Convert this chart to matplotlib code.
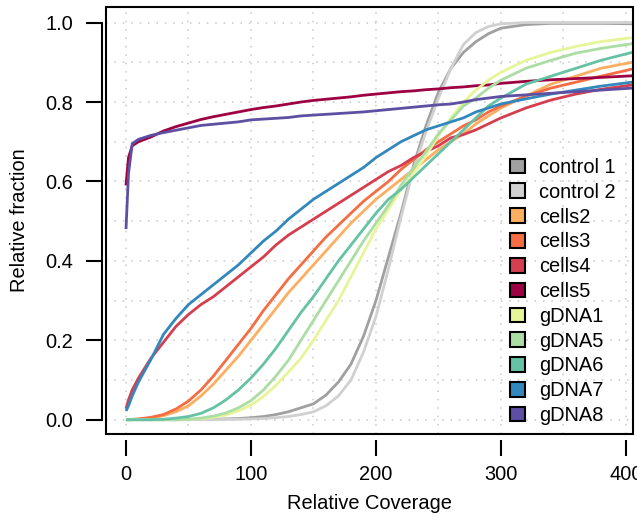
import numpy as np
import matplotlib
matplotlib.use("Agg")
import matplotlib.pyplot as plt
from matplotlib.patches import Patch, Rectangle

plt.rcParams["font.family"] = ["Liberation Sans", "DejaVu Sans"]
plt.rcParams["font.size"] = 14.4

# coverage grid shared by every curve
coverage = [0, 2, 5, 10, 20, 30, 40, 50, 60, 70, 80, 90, 100, 110, 120, 130, 140, 150,
            160, 170, 180, 190, 200, 210, 220, 230, 240, 250, 260, 270, 280, 290, 300,
            320, 340, 360, 380, 405]

control1 = [0, 0, 0, 0, 0, 0, 0, 0, 0.001, 0.001, 0.002, 0.003, 0.005, 0.008, 0.013, 0.02,
            0.03, 0.04, 0.062, 0.095, 0.14, 0.21, 0.30, 0.41, 0.52, 0.64, 0.74, 0.825, 0.885,
            0.925, 0.952, 0.972, 0.986, 0.995, 0.998, 0.998, 0.998, 0.997]
control2 = [0, 0, 0, 0, 0, 0, 0, 0, 0, 0, 0.001, 0.001, 0.002, 0.003, 0.005, 0.008,
            0.013, 0.02, 0.035, 0.06, 0.10, 0.17, 0.26, 0.38, 0.51, 0.63, 0.725, 0.81, 0.885,
            0.945, 0.975, 0.99, 0.997, 1.0, 1.0, 1.0, 1.0, 1.0]
cells2 = [0, 0, 0, 0.001, 0.004, 0.01, 0.02, 0.035, 0.06, 0.09, 0.125, 0.16, 0.20, 0.24,
          0.28, 0.32, 0.355, 0.39, 0.425, 0.46, 0.495, 0.525, 0.555, 0.58, 0.605, 0.63,
          0.655, 0.68, 0.70, 0.72, 0.745, 0.765, 0.785, 0.815, 0.845, 0.865, 0.885, 0.90]
cells3 = [0, 0, 0.001, 0.002, 0.006, 0.013, 0.027, 0.047, 0.075, 0.11, 0.15, 0.19, 0.23,
          0.275, 0.315, 0.355, 0.39, 0.425, 0.46, 0.49, 0.52, 0.55, 0.575, 0.60, 0.63,
          0.655, 0.68, 0.70, 0.72, 0.74, 0.755, 0.775, 0.79, 0.815, 0.835, 0.85, 0.865, 0.883]
cells4 = [0.028, 0.05, 0.075, 0.105, 0.155, 0.195, 0.235, 0.265, 0.29, 0.31, 0.335, 0.36,
          0.385, 0.41, 0.44, 0.465, 0.485, 0.505, 0.525, 0.545, 0.565, 0.585, 0.605, 0.625,
          0.64, 0.66, 0.675, 0.69, 0.71, 0.718, 0.73, 0.745, 0.76, 0.785, 0.805, 0.82,
          0.832, 0.843]
cells5 = [0.59, 0.66, 0.69, 0.70, 0.712, 0.727, 0.738, 0.747, 0.756, 0.763, 0.769, 0.775,
          0.781, 0.786, 0.79, 0.795, 0.80, 0.804, 0.807, 0.81, 0.813, 0.817, 0.82, 0.823,
          0.826, 0.828, 0.831, 0.833, 0.836, 0.838, 0.841, 0.843, 0.847, 0.852, 0.856,
          0.859, 0.862, 0.866]
gDNA1 = [0, 0, 0, 0, 0, 0, 0, 0.001, 0.003, 0.006, 0.012, 0.022, 0.037, 0.058, 0.087,
         0.12, 0.155, 0.20, 0.25, 0.30, 0.36, 0.42, 0.48, 0.53, 0.58, 0.62, 0.665, 0.715,
         0.76, 0.80, 0.83, 0.855, 0.875, 0.905, 0.925, 0.94, 0.952, 0.962]
gDNA5 = [0, 0, 0, 0, 0, 0, 0, 0.001, 0.004, 0.009, 0.017, 0.03, 0.048, 0.075, 0.11, 0.15,
         0.20, 0.25, 0.30, 0.35, 0.40, 0.45, 0.495, 0.54, 0.59, 0.635, 0.675, 0.72, 0.755,
         0.79, 0.81, 0.835, 0.855, 0.885, 0.905, 0.923, 0.935, 0.947]
gDNA6 = [0, 0, 0, 0, 0, 0.001, 0.004, 0.008, 0.016, 0.03, 0.05, 0.075, 0.105, 0.14, 0.18,
         0.225, 0.27, 0.31, 0.355, 0.40, 0.44, 0.48, 0.52, 0.555, 0.58, 0.61, 0.64, 0.67,
         0.70, 0.73, 0.76, 0.79, 0.81, 0.845, 0.865, 0.885, 0.905, 0.925]
gDNA7 = [0.022, 0.035, 0.06, 0.095, 0.152, 0.215, 0.255, 0.29, 0.315, 0.34, 0.365, 0.39,
         0.42, 0.45, 0.475, 0.505, 0.53, 0.555, 0.575, 0.595, 0.615, 0.635, 0.66, 0.68,
         0.70, 0.715, 0.73, 0.74, 0.75, 0.76, 0.775, 0.785, 0.795, 0.808, 0.82, 0.83,
         0.84, 0.85]
gDNA8 = [0.48, 0.62, 0.695, 0.706, 0.716, 0.723, 0.729, 0.735, 0.741, 0.744, 0.747, 0.75,
         0.755, 0.757, 0.759, 0.761, 0.765, 0.767, 0.769, 0.771, 0.773, 0.775, 0.778,
         0.781, 0.784, 0.787, 0.79, 0.793, 0.795, 0.80, 0.806, 0.81, 0.814, 0.818, 0.822,
         0.826, 0.83, 0.835]

labels = ["control 1", "control 2", "cells2", "cells3", "cells4", "cells5",
          "gDNA1", "gDNA5", "gDNA6", "gDNA7", "gDNA8"]
colors = ["#A0A0A0", "#D0D0D0", "#FDAE61", "#F46D43", "#D53E4F", "#9E0142",
          "#E6F598", "#ABDDA4", "#66C2A5", "#3288BD", "#5E4FA2"]
series = [control1, control2, cells2, cells3, cells4, cells5,
          gDNA1, gDNA5, gDNA6, gDNA7, gDNA8]

x_ticks = [0, 100, 200, 300, 400]
y_ticks = [0.0, 0.2, 0.4, 0.6, 0.8, 1.0]
x_grid = [0, 50, 100, 150, 200, 250, 300, 350, 400]
y_grid = [0.0, 0.1, 0.2, 0.3, 0.4, 0.5, 0.6, 0.7, 0.8, 0.9, 1.0]

fig = plt.figure(figsize=(6.37, 5.17), dpi=100)
ax = fig.add_axes([106 / 637, 1 - 434 / 517, (632.7 - 106) / 637, (434 - 6.7) / 517])

# dotted background grid
for gx in x_grid:
    ax.axvline(gx, color="#c8c8c8", lw=1.1, ls=(0, (1, 4.5)), zorder=0)
for gy in y_grid:
    ax.axhline(gy, color="#c8c8c8", lw=1.1, ls=(0, (1, 4.5)), zorder=0)

for ys, col in zip(series, colors):
    ax.plot(coverage, ys, color=col, lw=2.0, solid_capstyle="butt")

ax.set_xlim(-16, 405.4)
ax.set_ylim(-0.036, 1.04)
ax.set_xticks(x_ticks)
ax.set_yticks(y_ticks)
ax.set_yticklabels(["0.0", "0.2", "0.4", "0.6", "0.8", "1.0"])

# R-like axes: box plus offset axes
ax.add_patch(Rectangle((0, 0), 1, 1, transform=ax.transAxes, fill=False,
                       lw=1.5, ec="black", clip_on=False, zorder=5))
for s in ["top", "right"]:
    ax.spines[s].set_visible(False)
ax.spines["left"].set_position(("outward", 3))
ax.spines["left"].set_bounds(0, 1)
ax.spines["left"].set_linewidth(1.5)
ax.spines["bottom"].set_position(("outward", 4))
ax.spines["bottom"].set_color("none")
ax.tick_params(axis="both", direction="out", length=11.5, width=1.5,
               labelsize=14.4, pad=9)
ax.tick_params(axis="x", pad=7)

ax.set_xlabel("Relative Coverage", fontsize=14.4, labelpad=7)
ax.set_ylabel("Relative fraction", fontsize=14.4, labelpad=12)

handles = [Patch(facecolor=c, edgecolor="black", lw=1.5) for c in colors]
leg = ax.legend(handles, labels, loc="upper left", frameon=False, fontsize=14.4,
                bbox_to_anchor=(510 / 637, 1 - 158 / 517), bbox_transform=fig.transFigure,
                borderpad=0, borderaxespad=0, handlelength=0.75, handleheight=0.75,
                handletextpad=0.72, labelspacing=0.29)

fig.savefig("out.png", dpi=100)
